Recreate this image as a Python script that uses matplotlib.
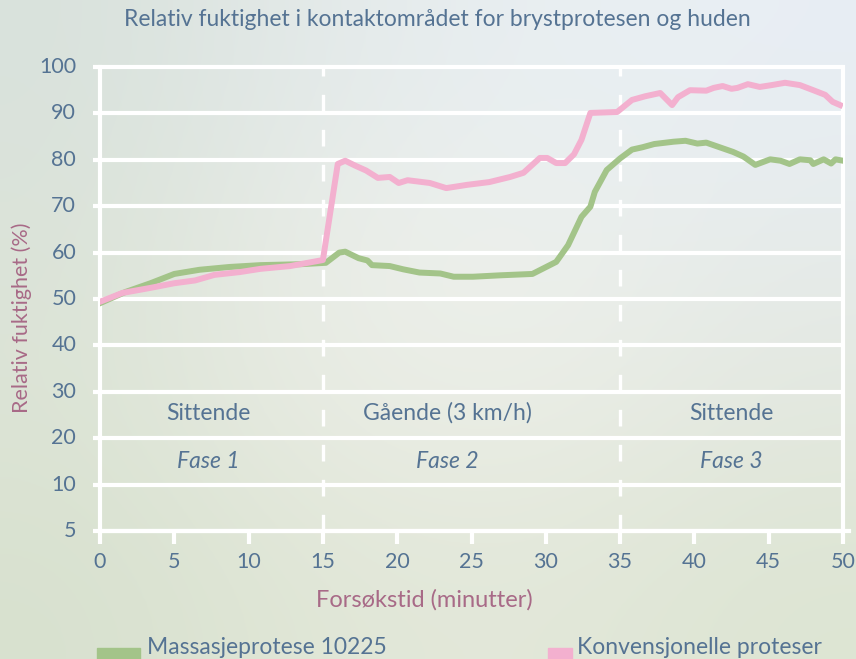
import numpy as np
import matplotlib
matplotlib.use("Agg")
import matplotlib.pyplot as plt
from matplotlib.colors import to_rgb
from matplotlib.patches import Rectangle

plt.rcParams["font.family"] = ["Lato", "DejaVu Sans"]

# data
massasje_t = [0, 1.7, 3.4, 5, 6.7, 8.7, 10.8, 13.5, 15.2, 16.1, 16.5, 17.4, 18.0, 18.3,
              19.5, 20.4, 21.5, 22.9, 23.8, 25.1, 26.9, 29.1, 30.7, 31.5, 32.4, 33.0,
              33.3, 34.1, 35.0, 35.8, 36.5, 37.3, 38.6, 39.4, 40.2, 40.8, 41.7, 42.6,
              43.3, 44.1, 45.1, 45.8, 46.4, 47.1, 47.8, 48.0, 48.7, 49.2, 49.5, 50.0]
massasje_rh = [49.1, 51.5, 53.4, 55.4, 56.3, 56.9, 57.3, 57.5, 57.8, 60.0, 60.2, 58.8,
               58.3, 57.3, 57.1, 56.4, 55.7, 55.5, 54.8, 54.8, 55.1, 55.4, 58.0, 61.6,
               67.7, 69.9, 73.1, 77.8, 80.3, 82.2, 82.7, 83.4, 83.9, 84.1, 83.5, 83.7,
               82.7, 81.7, 80.7, 78.9, 80.1, 79.8, 79.1, 80.1, 79.9, 79.1, 80.1, 79.2,
               80.1, 79.8]

konv_t = [0, 1.5, 3.4, 5, 6.4, 7.7, 9.4, 10.8, 12.8, 15.0, 16.0, 16.5, 17.2, 17.9,
          18.7, 19.5, 20.1, 20.7, 22.2, 23.3, 24.7, 26.2, 27.6, 28.5, 29.6, 30.1, 30.7,
          31.3, 31.9, 32.4, 33.0, 34.8, 35.8, 36.7, 37.7, 38.5, 38.9, 39.7, 40.8, 41.3,
          41.9, 42.5, 42.9, 43.6, 44.4, 45.2, 46.1, 47.1, 48.0, 48.8, 49.3, 49.8]
konv_rh = [49.4, 51.3, 52.4, 53.4, 54.0, 55.2, 55.8, 56.5, 57.1, 58.4, 79.1, 79.8,
           78.7, 77.7, 76.1, 76.3, 75.0, 75.6, 75.0, 73.9, 74.6, 75.2, 76.3, 77.2, 80.4,
           80.4, 79.3, 79.3, 81.2, 84.3, 90.1, 90.3, 92.9, 93.7, 94.4, 91.8, 93.5, 95.0,
           94.9, 95.5, 95.9, 95.3, 95.5, 96.3, 95.7, 96.1, 96.6, 96.1, 95.0, 94.0, 92.5,
           91.8]

x_ticks = [0, 5, 10, 15, 20, 25, 30, 35, 40, 45, 50]
y_ticks = [0, 10, 20, 30, 40, 50, 60, 70, 80, 90, 100]
y_labels = ["5", "10", "20", "30", "40", "50", "60", "70", "80", "90", "100"]
phase_bounds = [15, 35]
phase_names = ["Sittende", "Gående (3 km/h)", "Sittende"]
phase_fase = ["Fase 1", "Fase 2", "Fase 3"]
phase_x = [7.3, 23.4, 42.5]

blue = "#557393"
mauve = "#a86a87"
green = "#a3c489"
pink = "#f3b0cf"

fig = plt.figure(figsize=(8.56, 6.59), dpi=100)

# soft blurred photo-like background
bg = fig.add_axes([0, 0, 1, 1])
cols = [["#d9e2dc", "#e4eaea", "#e9eff2", "#e8eef4"],
        ["#dbe3d8", "#ebeee8", "#eef1ed", "#e6ebea"],
        ["#dce4d5", "#e9ece4", "#ebeee6", "#e3e8df"],
        ["#d8e1cf", "#e1e7d7", "#e3e8da", "#dde5d3"]]
grid = np.array([[to_rgb(c) for c in row] for row in cols])
bg.imshow(grid, aspect="auto", interpolation="bicubic", extent=[0, 1, 0, 1])
bg.set_axis_off()

ax = fig.add_axes([100 / 856, 128 / 659, 743 / 856, 464 / 659])
ax.patch.set_alpha(0)
ax.set_xlim(0, 50)
ax.set_ylim(0, 100)
for s in ax.spines.values():
    s.set_visible(False)

# white grid frame
for y in y_ticks:
    ax.plot([-0.5, 50], [y, y], color="white", lw=3, clip_on=False, zorder=1,
            solid_capstyle="butt")
ax.plot([0, 50.4], [0, 0], color="white", lw=3, clip_on=False, zorder=1)
ax.plot([0, 0], [0, 100], color="white", lw=3, clip_on=False, zorder=1)
ax.plot([50, 50], [0, 100], color="white", lw=3, clip_on=False, zorder=1)
for xb in phase_bounds:
    ax.plot([xb, xb], [0, 100], color="white", lw=2.4, ls=(0, (5, 5.5)),
            clip_on=False, zorder=1)

ax.set_xticks(x_ticks)
ax.set_yticks([])
ax.tick_params(axis="x", length=9, width=3, color="white", pad=6,
               labelsize=15.5, labelcolor=blue)
for y, lab in zip(y_ticks, y_labels):
    ax.text(-1.6, y, lab, ha="right", va="center", fontsize=15.5, color=blue)

ax.plot(massasje_t, massasje_rh, color=green, lw=4.3, zorder=3,
        solid_joinstyle="round")
ax.plot(konv_t, konv_rh, color=pink, lw=4.3, zorder=4, solid_joinstyle="round")

for xp, name, fase in zip(phase_x, phase_names, phase_fase):
    ax.text(xp, 25.4, name, ha="center", va="center", fontsize=16.5, color=blue)
    ax.text(xp, 15.0, fase, ha="center", va="center", fontsize=16.5, color=blue,
            style="italic")

fig.text(0.511, 1 - 20 / 659, "Relativ fuktighet i kontaktområdet for brystprotesen og huden",
         ha="center", va="center", fontsize=16.5, color=blue)
fig.text(22 / 856, 1 - 318 / 659, "Relativ fuktighet (%)", rotation=90,
         ha="center", va="center", fontsize=15.5, color=mauve)
fig.text(424 / 856, 1 - 600 / 659, "Forsøkstid (minutter)", ha="center",
         va="center", fontsize=17, color=mauve)

# legend at the bottom
fig.patches.append(Rectangle((97 / 856, 0), 43 / 856, 11 / 659, color=green,
                             transform=fig.transFigure))
fig.text(147 / 856, 1 - 648 / 659, "Massasjeprotese 10225", ha="left",
         va="center", fontsize=16.5, color=blue)
fig.patches.append(Rectangle((548 / 856, 0), 24 / 856, 11 / 659, color=pink,
                             transform=fig.transFigure))
fig.text(577 / 856, 1 - 648 / 659, "Konvensjonelle proteser", ha="left",
         va="center", fontsize=16.5, color=blue)

fig.savefig("out.png", dpi=100)
